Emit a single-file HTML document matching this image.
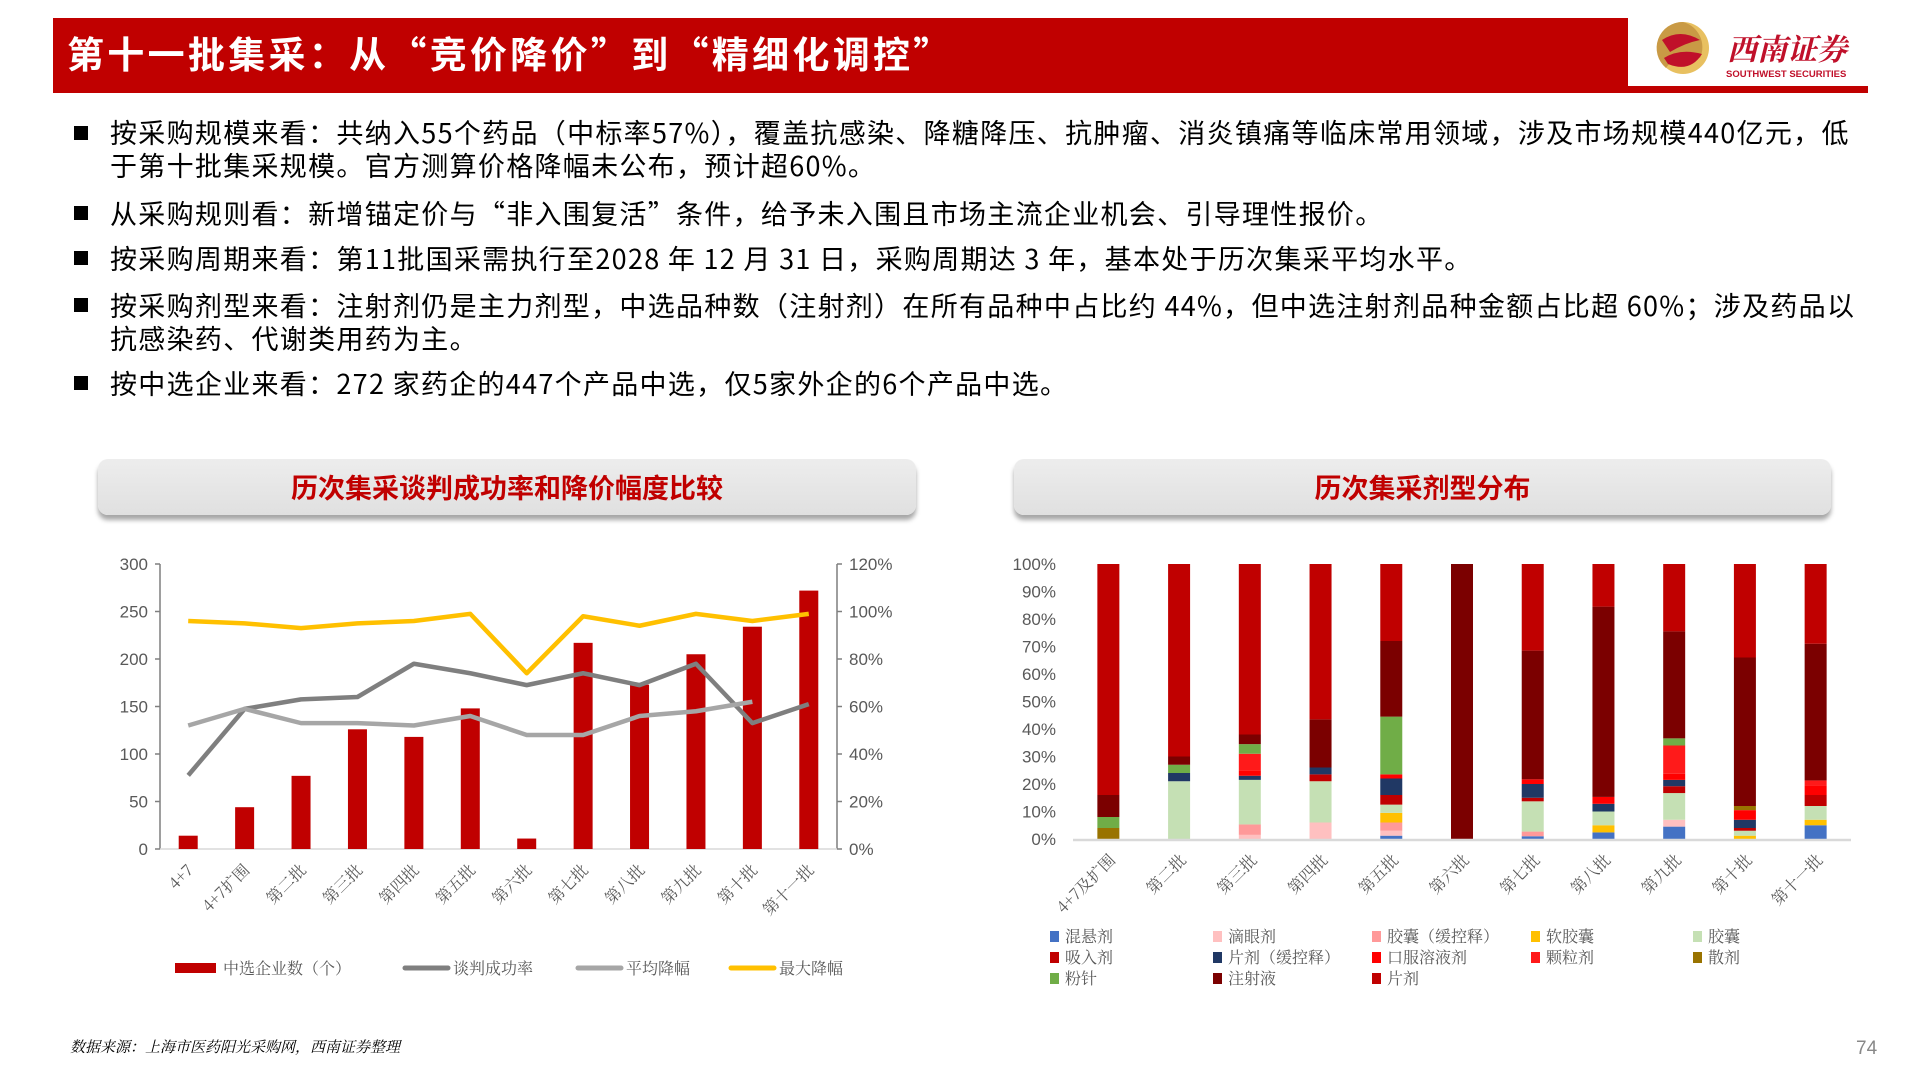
<!DOCTYPE html>
<html><head><meta charset="utf-8">
<style>
body{margin:0;width:1920px;height:1080px;overflow:hidden;background:#fff;font-family:"Liberation Sans","Noto Sans CJK SC",sans-serif;position:relative}
.abs{position:absolute}
.bul{position:absolute;left:110px;font-size:27px;color:#000;white-space:nowrap;line-height:33px;font-family:"Noto Sans CJK SC",sans-serif;letter-spacing:1.3px}
.sq{position:absolute;left:74px;width:14px;height:14px;background:#000}
.tbox{position:absolute;top:459px;height:56px;border-radius:10px;background:linear-gradient(#ededed,#e0e0e0);box-shadow:0 5px 5px rgba(0,0,0,0.35);text-align:center;line-height:56px;font-size:27px;font-weight:bold;color:#C00000;font-family:"Noto Sans CJK SC",sans-serif}
</style></head><body>
<div class="abs" style="left:53px;top:18px;width:1575px;height:70px;background:#C00000"></div>
<div class="abs" style="left:53px;top:86px;width:1815px;height:7px;background:#C00000"></div>
<div class="abs" style="left:67px;top:28px;font-size:37px;font-weight:bold;color:#fff;line-height:48px;white-space:nowrap;font-family:'Noto Sans CJK SC',sans-serif;letter-spacing:3.3px">第十一批集采：从“竞价降价”到“精细化调控”</div>
<svg class="abs" style="left:1650px;top:18px" width="230" height="70">
<circle cx="33" cy="30" r="26" fill="#E8C060"/>
<path d="M33 4 A26 26 0 0 0 16 50 Q30 30 50 40 A26 26 0 0 0 33 4 Z" fill="#C99A45"/>
<path d="M12 22 Q30 10 50 22 Q35 25 20 34 Z" fill="#C0102A"/>
<path d="M14 40 Q30 30 52 36 Q40 55 18 46 Z" fill="#C0102A"/>
<text x="77" y="42" font-size="30" font-weight="bold" font-style="italic" fill="#C0102A" font-family="'Noto Serif CJK SC',serif">西南证券</text>
<text x="76" y="59" font-size="9.5" font-weight="bold" fill="#C0102A" font-family="'Liberation Sans',sans-serif">SOUTHWEST SECURITIES</text>
</svg>

<div class="sq" style="top:126px"></div>
<div class="bul" style="top:115px">按采购规模来看：共纳入55个药品（中标率57%），覆盖抗感染、降糖降压、抗肿瘤、消炎镇痛等临床常用领域，涉及市场规模440亿元，低<br>于第十批集采规模。官方测算价格降幅未公布，预计超60%。</div>
<div class="sq" style="top:206px"></div>
<div class="bul" style="top:196px">从采购规则看：新增锚定价与“非入围复活”条件，给予未入围且市场主流企业机会、引导理性报价。</div>
<div class="sq" style="top:251px"></div>
<div class="bul" style="top:241px">按采购周期来看：第11批国采需执行至2028 年 12 月 31 日，采购周期达 3 年，基本处于历次集采平均水平。</div>
<div class="sq" style="top:298px"></div>
<div class="bul" style="top:288px">按采购剂型来看：注射剂仍是主力剂型，中选品种数（注射剂）在所有品种中占比约 44%，但中选注射剂品种金额占比超 60%；涉及药品以<br>抗感染药、代谢类用药为主。</div>
<div class="sq" style="top:376px"></div>
<div class="bul" style="top:366px">按中选企业来看：272 家药企的447个产品中选，仅5家外企的6个产品中选。</div>

<div class="tbox" style="left:98px;width:818px">历次集采谈判成功率和降价幅度比较</div>
<div class="tbox" style="left:1014px;width:817px">历次集采剂型分布</div>

<svg id="c1" class="abs" style="left:0;top:0" width="1920" height="1080"></svg>

<div class="abs" style="left:70px;top:1036px;font-size:15px;font-style:italic;color:#000;font-family:'Liberation Serif','Noto Serif CJK SC',serif">数据来源：上海市医药阳光采购网，西南证券整理</div>
<div class="abs" style="left:1856px;top:1038px;font-size:19px;color:#888">74</div>

<script>
// ---- Left chart data ----
const cats1 = ["4+7","4+7扩围","第二批","第三批","第四批","第五批","第六批","第七批","第八批","第九批","第十批","第十一批"];
const firms = [14,44,77,126,118,148,11,217,173,205,234,272];
const successRate = [31,59,63,64,78,74,69,74,69,78,53,61];
const avgCut = [52,59,53,53,52,56,48,48,56,58,62];
const maxCut = [96,95,93,95,96,99,74,98,94,99,96,99];
const leftTicks = [0,50,100,150,200,250,300];
const rightTicks = [0,20,40,60,80,100,120];

// ---- Right chart data ----
const cats2 = ["4+7及扩围","第二批","第三批","第四批","第五批","第六批","第七批","第八批","第九批","第十批","第十一批"];
const forms = ["混悬剂","滴眼剂","胶囊（缓控释）","软胶囊","胶囊","吸入剂","片剂（缓控释）","口服溶液剂","颗粒剂","散剂","粉针","注射液","片剂"];
const formColors = ["#4472C4","#FFC0C0","#FF9999","#FFC000","#C5E0B4","#C00000","#203864","#FF0000","#FF1A1A","#997300","#70AD47","#7B0000","#C00000"];
const s_hunxuan = [0,0,0,0,1.2,0,1,2.4,4.5,0,5];
const s_diyan   = [0,0,1.5,6,1.8,0,0,0,2.5,0,0];
const s_jnHuan  = [0,0,3.8,0,3,0,1.7,0,0,0,0];
const s_ruanJn  = [0,0,0,0,3.5,0,0,2.6,0,1.2,2];
const s_jiaonang= [0,21,16.2,15,3,0,11,5,9.7,1.8,5];
const s_xiru    = [0,0,0,2.5,3.5,0,1.3,0,2.5,1,4];
const s_pianHuan= [0,3,1.5,2.5,6,0,5,2.8,2.3,3,0];
const s_koufu   = [0,0,2,0,1.5,0,1.7,2.5,2.2,3.5,3.5];
const s_keli    = [0,0,6,0,0,0,0,0,10.3,0,1.8];
const s_san     = [4,0,0,0,0,0,0,0,0,1.5,0];
const s_fenzhen = [4,3,3.5,0,21,0,0,0,2.6,0,0];
const s_zhushe  = [8,3,3.5,17.5,27.5,100,46.8,69.2,38.9,54,49.7];
const s_pianji  = [84,70,62,56.5,28,0,31.5,15.5,24.5,34,29];
const series2 = [s_hunxuan,s_diyan,s_jnHuan,s_ruanJn,s_jiaonang,s_xiru,s_pianHuan,s_koufu,s_keli,s_san,s_fenzhen,s_zhushe,s_pianji];
const pctTicks = [0,10,20,30,40,50,60,70,80,90,100];

const NS="http://www.w3.org/2000/svg";
const svg=document.getElementById('c1');
function mk(tag,attrs,parent){const e=document.createElementNS(NS,tag);for(const k in attrs)e.setAttribute(k,attrs[k]);(parent||svg).appendChild(e);return e;}

// Left axes
const L={x0:160,x1:837,y0:849,y1:564};
const yL=v=>L.y0-(v/300)*(L.y0-L.y1);
const yR=v=>L.y0-(v/120)*(L.y0-L.y1);
const band1=(L.x1-L.x0)/cats1.length;
const xC1=i=>L.x0+band1*(i+0.5);

let ax=mk('line',{x1:L.x0,y1:L.y1,x2:L.x0,y2:L.y0,stroke:'#7f7f7f','stroke-width':1.5});


let ax2=mk('line',{x1:L.x1,y1:L.y1,x2:L.x1,y2:L.y0,stroke:'#7f7f7f','stroke-width':1.5});


let ax3=mk('line',{x1:L.x0,y1:L.y0,x2:L.x1,y2:L.y0,stroke:'#d9d9d9','stroke-width':1.5});


leftTicks.forEach(v=>{
  mk('line',{x1:L.x0-5,y1:yL(v),x2:L.x0,y2:yL(v),stroke:'#7f7f7f','stroke-width':1.5});
  const t=mk('text',{x:L.x0-12,y:yL(v)+6,'text-anchor':'end','font-size':17,fill:'#595959'});
  t.textContent=v;
  
  
});
rightTicks.forEach(v=>{
  mk('line',{x1:L.x1,y1:yR(v),x2:L.x1+5,y2:yR(v),stroke:'#7f7f7f','stroke-width':1.5});
  const t=mk('text',{x:L.x1+12,y:yR(v)+6,'font-size':17,fill:'#595959'});
  t.textContent=v+'%';
  
  
});
firms.forEach((v,i)=>{
  const r=mk('rect',{x:xC1(i)-9.5,y:yL(v),width:19,height:L.y0-yL(v),fill:'#C00000'});
  
  
});
function line(arr,color,name){
  const p=mk('polyline',{points:arr.map((v,i)=>xC1(i)+','+yR(v)).join(' '),fill:'none',stroke:color,'stroke-width':4.5,'stroke-linejoin':'round'});
  
  
}
line(successRate,'#7f7f7f','line-success-rate');
line(avgCut,'#a6a6a6','line-average-cut');
line(maxCut,'#FFC000','line-max-cut');
cats1.forEach((c,i)=>{
  const x=xC1(i)+6,y=L.y0+22;
  const t=mk('text',{x:x,y:y,'text-anchor':'end','font-size':16,fill:'#595959',transform:`rotate(-45 ${x} ${y})`,'font-family':"'Noto Serif CJK SC',serif"});
  t.textContent=c;
  
  
});
// left legend
const leg1=[["中选企业数（个）",'#C00000','rect',175],["谈判成功率",'#7f7f7f','line',405],["平均降幅",'#a6a6a6','line',578],["最大降幅",'#FFC000','line',731]];
leg1.forEach(([lab,col,type,x])=>{
  if(type==='rect') mk('rect',{x:x,y:963,width:41,height:10,fill:col});
  else mk('line',{x1:x,y1:968,x2:x+43,y2:968,stroke:col,'stroke-width':5,'stroke-linecap':'round'});
  const t=mk('text',{x:x+48,y:974,'font-size':16,fill:'#595959','font-family':"'Noto Serif CJK SC',serif"});
  t.textContent=lab;
  
  
});

// Right chart
const R={x0:1073,x1:1851,y0:839,y1:564};
const yP=v=>R.y0-(v/100)*(R.y0-R.y1);
const band2=(R.x1-R.x0)/cats2.length;
const xC2=i=>R.x0+band2*(i+0.5);
pctTicks.forEach(v=>{
  const t=mk('text',{x:1056,y:yP(v)+6,'text-anchor':'end','font-size':17,fill:'#595959'});
  t.textContent=v+'%';
  
  
});
cats2.forEach((c,i)=>{
  let acc=0;
  series2.forEach((s,k)=>{
    const v=s[i]; if(!v) {return;}
    const r=mk('rect',{x:xC2(i)-11,y:yP(acc+v),width:22,height:yP(acc)-yP(acc+v),fill:formColors[k]});
    
    
    acc+=v;
  });
  const x=xC2(i)+8,y=R.y0+22;
  const t=mk('text',{x:x,y:y,'text-anchor':'end','font-size':16,fill:'#595959',transform:`rotate(-45 ${x} ${y})`,'font-family':"'Noto Serif CJK SC',serif"});
  t.textContent=c;
  
  
});
let bl=mk('line',{x1:R.x0,y1:R.y0+1,x2:R.x1,y2:R.y0+1,stroke:'#d9d9d9','stroke-width':2.5});


const legX=[1050,1213,1372,1531,1693], legY=[937,958,979];
forms.forEach((f,k)=>{
  const x=legX[k%5], y=legY[Math.floor(k/5)];
  mk('rect',{x:x,y:y-6,width:9,height:11,fill:formColors[k]});
  const t=mk('text',{x:x+15,y:y+5,'font-size':16,fill:'#595959','font-family':"'Noto Serif CJK SC',serif"});
  t.textContent=f;
  
  
});
</script>
</body></html>
